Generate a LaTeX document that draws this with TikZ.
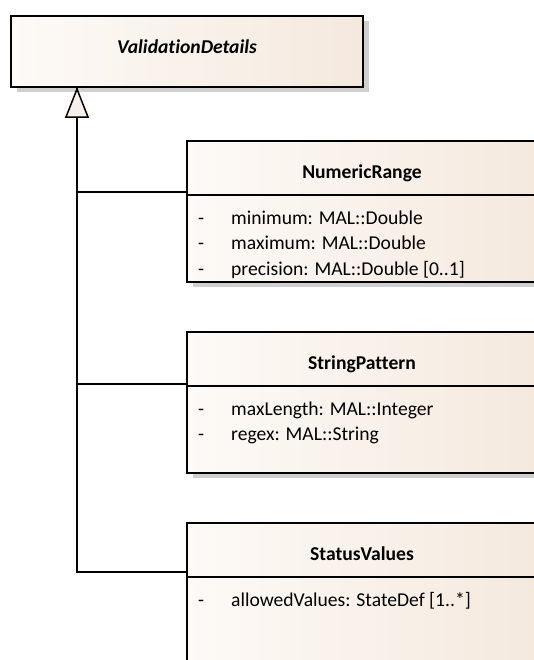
\documentclass[tikz,border=0pt]{standalone}
\usepackage{fontspec}
\setmainfont{Carlito}[Ligatures=NoCommon]
\usetikzlibrary{arrows.meta,positioning,shadows}

\definecolor{claro}{RGB}{253,250,247}
\definecolor{beige}{RGB}{245,233,222}
\definecolor{punta}{RGB}{247,239,235}
\newcommand\letra{\fontsize{19.6}{25.7}\selectfont}
\newcommand\atr[1]{\makebox[33pt][l]{-}#1\strut}

\begin{document}
\begin{tikzpicture}[
        x=1pt, y=-1pt,
        node distance=50pt,
        clase/.style={draw, line width=1.5pt, outer sep=0pt, left color=claro, right color=beige, font=\letra,
            drop shadow={shadow xshift=6pt, shadow yshift=-5pt, fill=black!19, opacity=1}},
        cabecera/.style={clase, minimum width=350pt, minimum height=54pt, font=\letra\bfseries, text height=21pt, text depth=0pt},
        cuerpo/.style={clase, minimum width=350pt, minimum height=87pt},
        atributos/.style={anchor=north west, align=left, inner sep=0pt, font=\letra},
        linea/.style={line width=1.5pt},
        herencia/.style={linea, -{Triangle[length=31pt, width=24pt, fill=punta]}}
    ]
        \useasboundingbox (0,0) rectangle (534,660);

        \node[clase, minimum width=352pt, minimum height=71pt, font=\letra\bfseries\itshape, text height=5pt, text depth=0pt] (validation-details) at (187,51.5) {ValidationDetails};

        \node[cabecera] (numeric-head) at (362,168) {NumericRange};
        \node[cuerpo, below=0pt of numeric-head] (numeric-body) {};
        \node[atributos] (numeric-attrs) at ([xshift=11pt, yshift=-11pt]numeric-body.north west)
            {\atr{minimum: MAL::Double}\\\atr{maximum: MAL::Double}\\\atr{precision: MAL::Double [0..1]}};

        \node[cabecera, below=of numeric-body] (string-head) {StringPattern};
        \node[cuerpo, below=0pt of string-head] (string-body) {};
        \node[atributos] (string-attrs) at ([xshift=11pt, yshift=-11pt]string-body.north west)
            {\atr{maxLength: MAL::Integer}\\\atr{regex: MAL::String}};

        \node[cabecera, below=of string-body] (status-head) {StatusValues};
        \node[cuerpo, below=0pt of status-head] (status-body) {};
        \node[atributos] (status-attrs) at ([xshift=11pt, yshift=-11pt]status-body.north west)
            {\atr{allowedValues: StateDef [1..*]}};

        \coordinate (tronco) at ([xshift=66pt]validation-details.south west);
        \draw[linea] ([yshift=3pt]numeric-head.south west) -| (tronco);
        \draw[linea] ([yshift=2pt]string-head.south west) -| (tronco);
        \draw[herencia] ([yshift=5pt]status-head.south west) -| (tronco);
    \end{tikzpicture}
\end{document}
